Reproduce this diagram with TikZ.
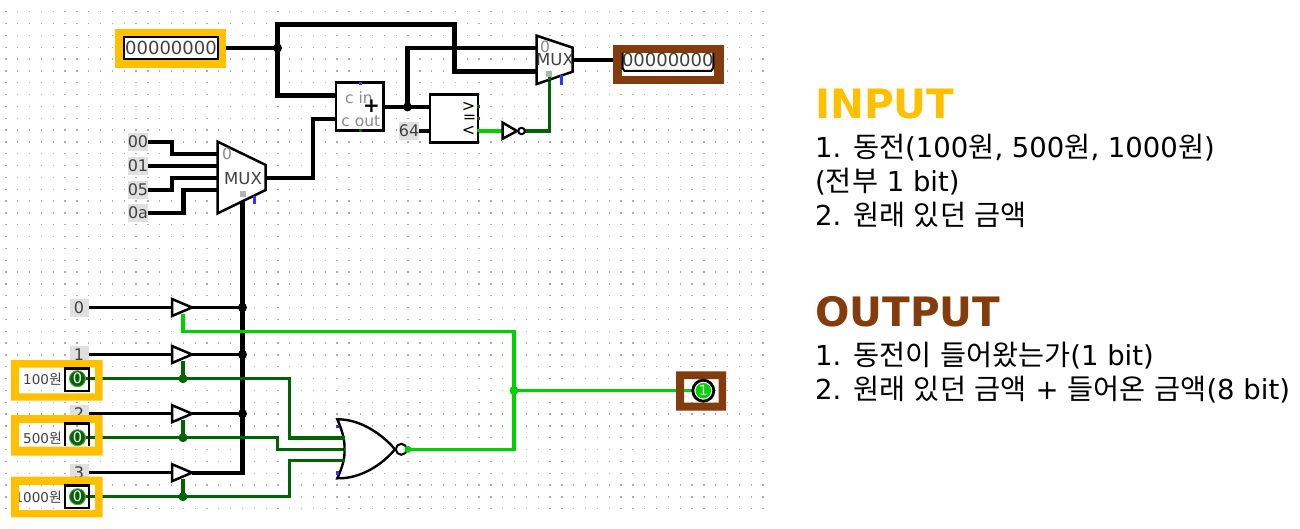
\documentclass[tikz,border=0pt]{standalone}
\usepackage{fontspec}
\setmainfont{DejaVu Sans}
\newfontfamily\ko[Scale=1.03]{Noto Sans CJK KR}
\usetikzlibrary{calc}
\definecolor{inorange}{HTML}{FFC000}
\definecolor{outbrown}{HTML}{843C0C}
\definecolor{darkon}{HTML}{006400}
\definecolor{brighton}{HTML}{00D200}
\definecolor{inktext}{HTML}{404040}
\definecolor{faint}{HTML}{8A8A8A}
\tikzset{
  griddot/.style={fill=black!32},
  bus/.style={draw=black,line width=4.2pt,line join=miter},
  onebit/.style={draw=black,line width=3.4pt,line join=miter},
  lowwire/.style={draw=darkon,line width=3.5pt,line join=miter},
  highwire/.style={draw=brighton,line width=3.5pt,line join=miter},
  gate/.style={draw=black,line width=2.5pt,fill=white,line join=miter},
  wirebox/.style={draw=black,line width=2.5pt,fill=white,inner sep=0pt,rectangle},
  constlbl/.style={fill=black!12,text=inktext,inner sep=0pt,minimum height=18pt,minimum width=19pt,font=\fontsize{16}{16}\selectfont},
  dotblack/.style={circle,fill=black,inner sep=0pt,minimum size=9pt},
  dotlow/.style={circle,fill=darkon,inner sep=0pt,minimum size=9pt},
  dothigh/.style={circle,fill=brighton,inner sep=0pt,minimum size=9pt},
  hexdigits/.style={text=inktext,font=\fontsize{18}{18}\selectfont,inner sep=0pt},
  faintlbl/.style={text=faint,font=\fontsize{15.5}{15.5}\selectfont,inner sep=0pt},
  muxlbl/.style={text=inktext,font=\fontsize{16.5}{16.5}\selectfont,inner sep=0pt},
  swlbl/.style={text=inktext,font=\fontsize{13.5}{13.5}\selectfont,inner sep=0pt,anchor=east},
  heading/.style={anchor=base west,inner sep=0pt,font=\fontsize{40.5}{40.5}\selectfont\bfseries},
  body/.style={anchor=base west,inner sep=0pt,font=\fontsize{27.5}{27.5}\selectfont},
  swcircle/.style={circle,fill=darkon,draw=darkon!65!white,line width=.9pt,inner sep=0pt,minimum size=16pt,text=white,font=\fontsize{14.5}{14.5}\selectfont},
  cmpsign/.style={inner sep=0pt,font=\fontsize{16}{16}\selectfont},
}
\begin{document}
\begin{tikzpicture}[x=1pt,y=-1pt]
\useasboundingbox (0,0) rectangle (1300,529);
\fill[white] (0,0) rectangle (1300,529);
% grid
\foreach \i in {0,...,64}{\foreach \j in {1,...,43}{
  \fill[griddot] ({5.9+11.83*\i-.65},{11.83*\j-.65}) rectangle ++(1.3,1.3);
}}
% pins and named points
\coordinate (topin) at (226,48);
\coordinate (j1) at (277.5,48);
\coordinate (addA) at (337,95.5);
\coordinate (addB) at (337,119);
\coordinate (addO) at (384,107);
\coordinate (j2) at (407.5,107);
\coordinate (cmpA) at (431,107);
\coordinate (cmpB) at (431,131);
\coordinate (cmpLT) at (478,131);
\coordinate (invIn) at (503,131);
\coordinate (invOut) at (525,131);
\coordinate (m2A) at (538,48);
\coordinate (m2B) at (538,71.5);
\coordinate (m2O) at (572.7,60);
\coordinate (m2S) at (549.5,77);
\coordinate (outreg) at (622,60);
\coordinate (m1A) at (218,154);
\coordinate (m1B) at (218,166);
\coordinate (m1C) at (218,178);
\coordinate (m1D) at (218,190);
\coordinate (m1O) at (265.7,178);
\coordinate (m1S) at (242.5,199);
\coordinate (b0I) at (172,307.5);
\coordinate (b1I) at (172,354.5);
\coordinate (b2I) at (172,413.7);
\coordinate (b3I) at (172,472.7);
\coordinate (b0O) at (192,307.5);
\coordinate (b1O) at (192,354.5);
\coordinate (b2O) at (192,413.7);
\coordinate (b3O) at (192,472.7);
\coordinate (b0C) at (183,314);
\coordinate (b1C) at (183,361);
\coordinate (b2C) at (183,420);
\coordinate (b3C) at (183,479);
\coordinate (corner) at (242.5,472.7);
\coordinate (norA) at (342,438);
\coordinate (norB) at (344,449.3);
\coordinate (norC) at (342,460.3);
\coordinate (norO) at (408,449.3);
\coordinate (j3) at (514,390.5);
\coordinate (led) at (692,390.5);
\coordinate (sw1) at (86,378.7);
\coordinate (sw2) at (86,437.7);
\coordinate (sw3) at (86,496.7);
% constant labels
\node[constlbl] (k00) at (138,142) {00};
\node[constlbl] (k01) at (138,166) {01};
\node[constlbl] (k05) at (138,190) {05};
\node[constlbl] (k0a) at (138,213) {0a};
\node[constlbl] (k64) at (409,131) {64};
\node[constlbl] (s0) at (79,307.5) {0};
\node[constlbl] (s1) at (79,354.5) {1};
\node[constlbl] (s2) at (79,413.7) {2};
\node[constlbl] (s3) at (79,472.7) {3};
% black wires
\draw[bus] (topin) -- (j1);
\draw[bus] (j1) |- (addA);
\draw[bus] (j1) -- (277.5,24.5) -- (454.5,24.5) |- (m2B);
\draw[bus] (addO) -- (j2) -- (cmpA);
\draw[bus] (j2) |- (m2A);
\draw[bus] (k64.east) -- (cmpB);
\draw[onebit] (m2O) -- (outreg);
\draw[bus] (k00.east) -- (172,142) |- (m1A);
\draw[bus] (k01.east) -- (m1B);
\draw[bus] (k05.east) -- (172,190) |- (m1C);
\draw[bus] (k0a.east) -- (183.5,213) |- (m1D);
\draw[bus] (m1O) -- (313,178) |- (addB);
\draw[bus] (m1S) -- (corner) -- (b3O);
\draw[onebit] (s0.east) -- (b0I);
\draw[onebit] (s1.east) -- (b1I);
\draw[onebit] (s2.east) -- (b2I);
\draw[onebit] (s3.east) -- (b3I);
\draw[onebit] (b0O) -- (242.5,307.5);
\draw[onebit] (b1O) -- (242.5,354.5);
\draw[onebit] (b2O) -- (242.5,413.7);
\node[dotblack] (j1d) at (j1) {};
\node[dotblack] (j2d) at (j2) {};
\node[dotblack] (jb0) at (242.5,307.5) {};
\node[dotblack] (jb1) at (242.5,354.5) {};
\node[dotblack] (jb2) at (242.5,413.7) {};
% green wires
\draw[highwire] (b0C) |- (514,331.5) -- (514,449.3) -- (norO);
\draw[highwire] (j3) -- (led);
\draw[highwire] (cmpLT) -- (invIn);
\draw[lowwire] (invOut) -| (m2S);
\draw[lowwire] (sw1) -- (289.3,378.7) |- (norA);
\draw[lowwire] (sw2) -- (277.3,437.7) |- (norB);
\draw[lowwire] (sw3) -- (289.3,496.7) |- (norC);
\draw[lowwire] (b1C) -- (183,378.7);
\draw[lowwire] (b2C) -- (183,437.7);
\draw[lowwire] (b3C) -- (183,496.7);
\node[dotlow] (jl1) at (183,378.7) {};
\node[dotlow] (jl2) at (183,437.7) {};
\node[dotlow] (jl3) at (183,496.7) {};
\node[dothigh] (jh) at (j3) {};
% top input register
\fill[inorange] (114.7,29) rectangle (225.7,68);
\node[wirebox,minimum width=94pt,minimum height=22pt] (reg) at (171,48) {};
\node[hexdigits] (regt) at (reg) {00000000};
% adder
\node[wirebox,minimum width=47.7pt,minimum height=48pt] (adder) at (359.8,106.7) {};
\node[faintlbl,anchor=east] (cin) at (373,98) {c in};
\node[faintlbl,anchor=east] (cout) at (380.5,121) {c out};
\node[inner sep=0pt,font=\fontsize{20}{20}\selectfont\bfseries] (plus) at (371.5,106.5) {+};
\fill[blue!80] (358.5,82) rectangle (362,85);
\fill[darkon] (358.5,129.5) rectangle (362,132);
% comparator
\node[wirebox,minimum width=48pt,minimum height=48pt] (cmp) at (454,118.7) {};
\node[cmpsign] (cg) at (468.5,107) {>};
\node[cmpsign] (ce) at (469.5,119) {=};
\node[cmpsign] (cl) at (468.5,131) {<};
\fill[darkon] (476.5,105.5) rectangle (480,108.5);
\fill[darkon] (476.5,117.5) rectangle (480,120.5);
\fill[brighton] (476.5,129.5) rectangle (480,132.5);
% inverter
\draw[gate] (502.7,122.7) -- (517,131) -- (502.7,138.7) -- cycle;
\node[circle,draw=black,fill=white,line width=2pt,inner sep=0pt,minimum size=6.5pt] (bub) at (521.5,131) {};
% mux 2
\draw[gate] (536.7,35.7) -- (572.7,47.7) -- (572.7,71.7) -- (536.7,84) -- cycle;
\node[muxlbl] (m2t) at (555,60) {MUX};
\node[faintlbl] (m2z) at (545,47) {0};
\fill[black!30] (546,71.5) rectangle (552,77);
\fill[blue!80] (559.5,75) rectangle (563,85);
\draw[lowwire] (m2S) -- ++(0,3);
% output register
\fill[outbrown] (613.3,45) rectangle (724.3,83.7);
\fill[white] (621.7,52.7) rectangle (714,75.7);
\node[hexdigits] (regout) at (667.8,60) {00000000};
\draw[black,line width=2pt] (622.5,53) -- (622.5,68) -- (624.5,71) -- (711,71) -- (713.3,68) -- (713.3,53);
% mux 1
\draw[gate] (217.7,141.7) -- (265.7,165) -- (265.7,190) -- (217.7,213.3) -- cycle;
\node[muxlbl] (m1t) at (243,179) {MUX};
\node[faintlbl] (m1z) at (227,154) {0};
\fill[black!30] (239.5,191.5) rectangle (245.5,197);
\fill[blue!80] (252.5,196) rectangle (256,204);
% buffers
\draw[gate] (b0I) ++(0,-8.5) -- (b0O) -- ($(b0I)+(0,8.5)$) -- cycle;
\draw[gate] (b1I) ++(0,-8.5) -- (b1O) -- ($(b1I)+(0,8.5)$) -- cycle;
\draw[gate] (b2I) ++(0,-8.5) -- (b2O) -- ($(b2I)+(0,8.5)$) -- cycle;
\draw[gate] (b3I) ++(0,-8.5) -- (b3O) -- ($(b3I)+(0,8.5)$) -- cycle;
% NOR
\draw[black,line width=2.4pt,fill=white,line join=miter]
  (337.3,419.3) .. controls (342,430) and (345,440) .. (344.5,449.3)
  .. controls (345,459) and (342,468) .. (337.3,478.3)
  .. controls (360,479) and (382,465) .. (395,449.3)
  .. controls (382,434) and (360,419) .. (337.3,419.3) -- cycle;
\draw[lowwire] (norA) -- ++(3,0);
\draw[lowwire] (norB) -- ++(1,0);
\draw[lowwire] (norC) -- ++(3,0);
\node[circle,draw=black,line width=2pt,inner sep=0pt,minimum size=11pt] (norbub) at (401.3,449.3) {};
\node[dothigh,minimum size=7pt] (jo) at (norO) {};
\fill[blue!80] (335.5,424.5) rectangle (339,428);
\fill[blue!80] (335.5,471) rectangle (339,474.5);
% input switches
\node[swlbl] (t1) at (62,379.5) {100{\ko 원}};
\node[swlbl] (t2) at (62,438.5) {500{\ko 원}};
\node[swlbl] (t3) at (62,497.5) {1000{\ko 원}};
\fill[inorange,even odd rule] (11,360) rectangle (102.7,400.7) (19,367.7) rectangle (95,393.3);
\fill[inorange,even odd rule] (11,415) rectangle (102.7,455.7) (19,423) rectangle (95,446.7);
\fill[inorange,even odd rule] (11,476.7) rectangle (102.7,517.3) (19,485) rectangle (95,510);
\draw[black,line width=2.4pt] (65,368.5) rectangle (89,390.7);
\draw[black,line width=2.4pt] (65,446.3) -- (65,423.5) -- (89,423.5) -- (89,446.3);
\draw[black,line width=2.4pt] (65,485.5) rectangle (89,508);
\node[swcircle] (c1) at (77.5,378.7) {0};
\node[swcircle] (c2) at (77.5,437.7) {0};
\node[swcircle] (c3) at (77.5,496.7) {0};
% output LED
\fill[outbrown,even odd rule] (676,371.3) rectangle (726,410.7) (684,379) rectangle (718.7,402.7);
\draw[highwire] (684,390.5) -- (694,390.5);
\node[circle,draw=black,fill=white,line width=2.8pt,inner sep=0pt,minimum size=21pt] (ledr) at (703.3,390.7) {};
\node[circle,fill=brighton,inner sep=0pt,minimum size=15.5pt,text=white,font=\fontsize{14}{14}\selectfont] (ledc) at (703.3,390.7) {1};
% legend text
\node[heading,text=inorange] (hin) at (815,119) {INPUT};
\node[body] (i1) at (815,157.5) {1. {\ko 동전}(100{\ko 원}, 500{\ko 원}, 1000{\ko 원})};
\node[body] (i2) at (815,191.5) {({\ko 전부} 1 bit)};
\node[body] (i3) at (815,225.5) {2. {\ko 원래} {\ko 있던} {\ko 금액}};
\node[heading,text=outbrown] (hout) at (815,326.2) {OUTPUT};
\node[body] (o1) at (815,365) {1. {\ko 동전이} {\ko 들어왔는가}(1 bit)};
\node[body] (o2) at (815,399) {2. {\ko 원래} {\ko 있던} {\ko 금액} + {\ko 들어온} {\ko 금액}(8 bit)};
\end{tikzpicture}
\end{document}
